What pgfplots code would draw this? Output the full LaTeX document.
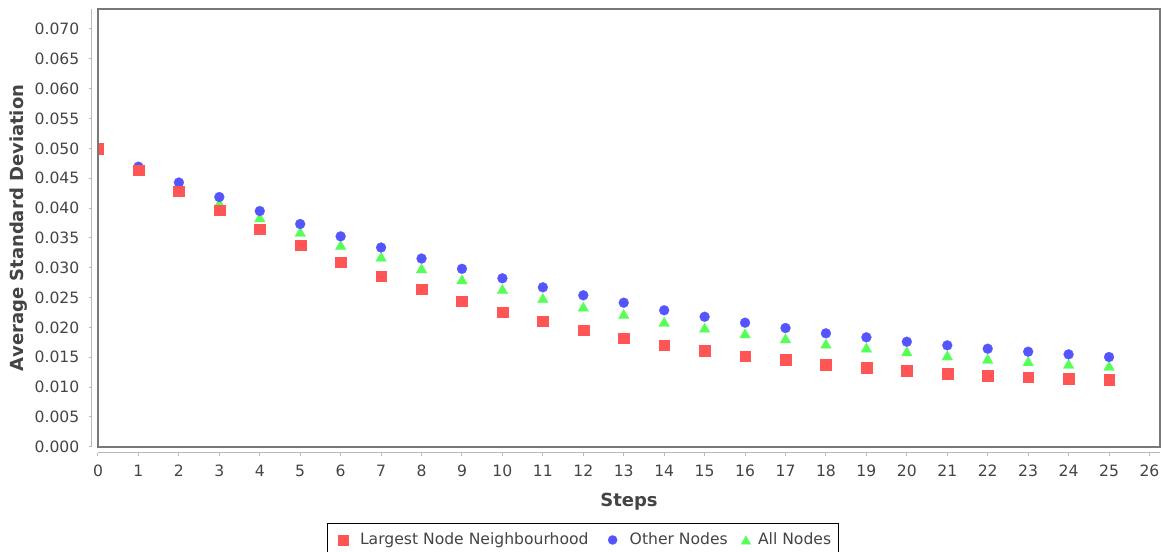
\documentclass[border=0pt]{standalone}
\usepackage{pgfplots}
\usepackage{pgfplotstable}
\pgfplotsset{compat=1.18}
\usepackage{fontspec}
\setmainfont{DejaVu Sans}

\definecolor{seriesred}{RGB}{255,85,85}
\definecolor{seriesblue}{RGB}{85,85,255}
\definecolor{seriesgreen}{RGB}{85,255,85}
\definecolor{labelgray}{RGB}{68,68,68}
\definecolor{framegray}{RGB}{120,120,120}
\definecolor{axisgray}{RGB}{185,185,185}

% average standard deviation per step
\pgfplotstableread{
step largest other all
0  0.05000 0.05000 0.05000
1  0.04636 0.04692 0.04670
2  0.04285 0.04427 0.04370
3  0.03966 0.04184 0.04090
4  0.03648 0.03949 0.03844
5  0.03380 0.03732 0.03602
6  0.03095 0.03525 0.03380
7  0.02860 0.03338 0.03184
8  0.02642 0.03153 0.02989
9  0.02441 0.02981 0.02805
10 0.02257 0.02822 0.02642
11 0.02106 0.02671 0.02492
12 0.01955 0.02537 0.02346
13 0.01821 0.02413 0.02224
14 0.01704 0.02286 0.02094
15 0.01604 0.02178 0.01994
16 0.01520 0.02078 0.01900
17 0.01453 0.01989 0.01816
18 0.01377 0.01900 0.01726
19 0.01319 0.01833 0.01662
20 0.01277 0.01759 0.01599
21 0.01230 0.01699 0.01531
22 0.01196 0.01642 0.01475
23 0.01168 0.01592 0.01433
24 0.01139 0.01548 0.01389
25 0.01118 0.01503 0.01356
}\sdtable

\begin{document}
\begin{tikzpicture}
\useasboundingbox (0pt,0pt) rectangle (582pt,-276pt);
\begin{axis}[
  at={(49pt,-223.35pt)}, anchor=south west,
  scale only axis, width=531pt, height=218.85pt,
  xmin=0, xmax=26.26, ymin=0, ymax=0.07335,
  clip mode=individual, clip marker paths=true,
  axis lines*=left,
  axis x line shift=3pt, axis y line shift=3pt,
  axis line style={axisgray, line width=0.5pt},
  tick align=outside, major tick length=1.5pt,
  tick style={axisgray, line width=0.5pt},
  xtick={0,...,26},
  ytick={0,0.005,0.010,0.015,0.020,0.025,0.030,0.035,0.040,0.045,0.050,0.055,0.060,0.065,0.070},
  scaled y ticks=false,
  /pgf/number format/assume math mode=true,
  ticklabel style={font=\fontsize{7.8pt}{9pt}\selectfont, text=labelgray},
  yticklabel style={/pgf/number format/fixed, /pgf/number format/fixed zerofill,
    /pgf/number format/precision=3, inner sep=0pt, xshift=-4.65pt},
  xticklabel style={inner sep=0pt, yshift=-4.5pt},
  xlabel={Steps}, ylabel={Average Standard Deviation},
  every axis x label/.style={at={(axis description cs:0.5,-0.1364)}, anchor=base,
    font=\fontsize{9pt}{11pt}\selectfont\bfseries, text=labelgray},
  every axis y label/.style={at={(axis description cs:-0.0701,0.5)}, anchor=base, rotate=90,
    font=\fontsize{9pt}{11pt}\selectfont\bfseries, text=labelgray},
  legend image code/.code={\path (-4pt,0pt) (4pt,0pt);
    \draw[mark repeat=2,mark phase=2,#1] plot coordinates {(-4pt,0pt) (0pt,0pt) (4pt,0pt)};},
  legend style={at={(axis description cs:0.4567,-0.1712)}, anchor=north,
    draw=black, line width=0.5pt, fill=white,
    font=\fontsize{7.8pt}{9pt}\selectfont, text=labelgray,
    inner xsep=3.5pt, inner ysep=4.7pt, yshift=-0.5pt,
    nodes={inner sep=0pt},
    /tikz/column 1/.style={column sep=4.5pt},
    /tikz/column 2/.style={column sep=8pt},
    /tikz/column 3/.style={column sep=4.5pt},
    /tikz/column 4/.style={column sep=5pt},
    /tikz/column 5/.style={column sep=2pt},
  },
  legend columns=3,
]
% legend entries, in the order they are listed
\addlegendimage{/tikz/only marks, mark=square*, mark size=2.4pt, color=seriesred, line width=0.1pt}
\addlegendentry{Largest Node Neighbourhood}
\addlegendimage{/tikz/only marks, mark=*, mark size=2.3pt, color=seriesblue, line width=0.1pt}
\addlegendentry{Other Nodes}
\addlegendimage{/tikz/only marks, mark=triangle*, mark size=2.8pt, color=seriesgreen, line width=0.1pt,
  mark options={yshift=-0.7pt}}
\addlegendentry{All Nodes}

% series drawn back to front: all nodes, other nodes, largest neighbourhood
\addplot[only marks, mark=triangle*, mark size=3.1pt, color=seriesgreen, line width=0.1pt,
  mark options={yshift=-0.78pt}, forget plot]
  table[x=step, y=all] {\sdtable};
\addplot[only marks, mark=*, mark size=2.5pt, color=seriesblue, line width=0.1pt, forget plot]
  table[x=step, y=other] {\sdtable};
\addplot[only marks, mark=square*, mark size=2.7pt, color=seriesred, line width=0.1pt, forget plot]
  table[x=step, y=largest] {\sdtable};

% plot area frame
\draw[framegray, line width=1pt] (rel axis cs:0,0) rectangle (rel axis cs:1,1);
\end{axis}
\end{tikzpicture}
\end{document}
